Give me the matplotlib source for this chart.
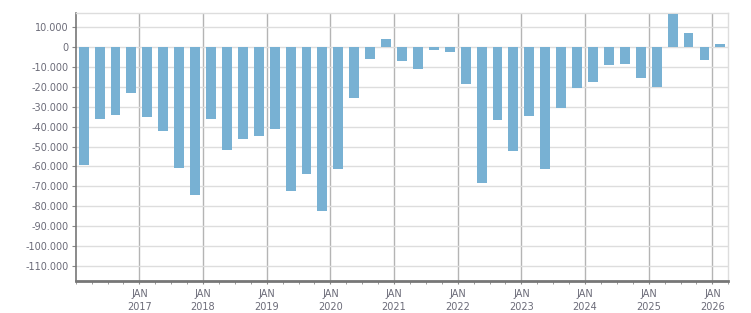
import matplotlib
matplotlib.use("Agg")
import matplotlib.pyplot as plt
import numpy as np

# quarterly values, Q1 2016 .. Q1 2026
start_year = 2016
values = [
    -59000, -36000, -34000, -23000,   # 2016
    -35000, -42000, -61000, -74200,   # 2017
    -36000, -51600, -46000, -44700,   # 2018
    -41000, -72200, -63700, -82300,   # 2019
    -61200, -25500, -5900, 4000,      # 2020
    -6900, -10900, -1350, -2350,      # 2021
    -18400, -68200, -36500, -52100,   # 2022
    -34500, -61300, -30500, -20450,   # 2023
    -17400, -8900, -8400, -15400,     # 2024
    -19950, 16600, 7000, -6400,       # 2025
    1500,                             # 2026
]
years = list(range(2017, 2027))
ytick_vals = list(range(10000, -110001, -10000))

txt = "#6b6b78"
bar_col = "#78b1d3"

fig = plt.figure(figsize=(7.51, 3.13), dpi=100)
ax = fig.add_axes([0.1008, 0.1032, 0.869, 0.8543])

# x in years: quarter q of year y occupies [y + q/4, y + (q+1)/4]
x = start_year + np.arange(len(values)) * 0.25 + 0.125
ax.bar(x, values, width=0.25 * 0.62, color=bar_col, zorder=3)

ax.set_xlim(start_year, start_year + len(values) * 0.25)
ax.set_ylim(-117400, 17000)

ax.set_yticks(ytick_vals)
ax.set_yticklabels(["0" if v == 0 else f"{v:,}".replace(",", ".") for v in ytick_vals])
ax.set_xticks(years)
ax.set_xticklabels([f"JAN\n{y}" for y in years])
ax.set_xticks(np.arange(start_year, start_year + len(values) * 0.25 + 0.01, 0.25), minor=True)

ax.yaxis.grid(True, color="#dddddd", linewidth=1, zorder=0)
ax.xaxis.grid(True, which="major", color="#b4b4b4", linewidth=1, zorder=1)

ax.tick_params(axis="y", length=3, color="#888888", labelsize=7, labelcolor=txt, pad=2)
ax.tick_params(axis="x", which="major", length=2.5, color="#888888", labelsize=7,
               labelcolor=txt, pad=3.5)
ax.tick_params(axis="x", which="minor", length=2.5, color="#888888")
for lbl in ax.get_xticklabels():
    lbl.set_linespacing(1.4)

for s in ["top", "right"]:
    ax.spines[s].set_color("#dddddd")
    ax.spines[s].set_linewidth(1)
ax.spines["left"].set_color("#777777")
ax.spines["left"].set_linewidth(1.2)
ax.spines["bottom"].set_color("#777777")
ax.spines["bottom"].set_linewidth(2)

fig.savefig("out.png", dpi=100)
